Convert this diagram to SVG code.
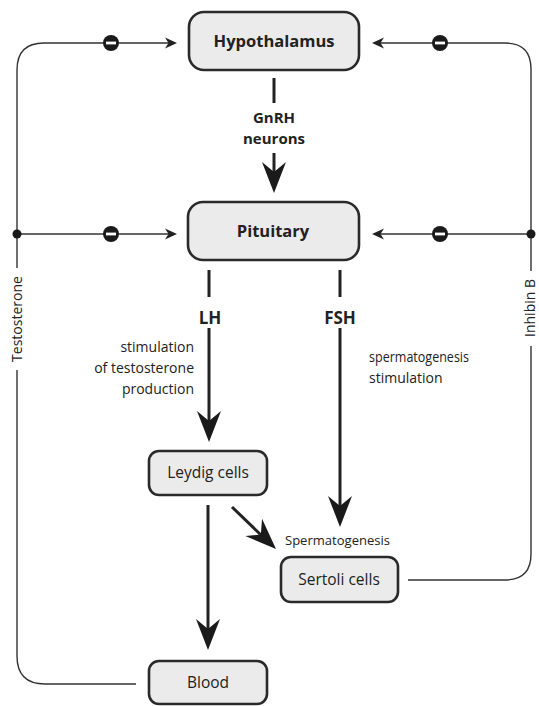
<svg xmlns="http://www.w3.org/2000/svg" xmlns:xlink="http://www.w3.org/1999/xlink" width="539" height="706" viewBox="0 0 539 706">
<style>
.box{fill:#ebebeb;stroke:#2a2a2a;stroke-width:2.6}
.thin{fill:none;stroke:#333;stroke-width:1.4}
.thick{fill:none;stroke:#222;stroke-width:3}
.bold{font-family:"Open Sans","Liberation Sans",sans-serif;font-weight:bold;font-size:16px;fill:#222;text-anchor:middle}
.lbl{font-family:"Open Sans","Liberation Sans",sans-serif;font-size:15.5px;fill:#222;text-anchor:middle}
.note{font-family:"Open Sans","Liberation Sans",sans-serif;font-size:14px;fill:#222}
.side{font-family:"Open Sans","Liberation Sans",sans-serif;font-size:14px;fill:#222;text-anchor:middle}
</style>
<defs>
<path id="big" d="M0,0 L-12,-31 L0,-21 L12,-31 Z" fill="#1a1a1a"/>
<path id="small" d="M0,0 L-12,-5.5 L-8.5,0 L-12,5.5 Z" fill="#222"/>
<g id="minus"><circle r="8" fill="#1a1a1a"/><rect x="-5" y="-1.4" width="10" height="2.8" fill="#fff"/></g>
</defs>

<g id="connectors">
  <!-- testosterone feedback -->
  <path class="thin" d="M136,684 H45 Q17,684 17,656 V370"/>
  <path class="thin" d="M17,268 V70 Q17,43 44,43 H170"/>
  <path class="thin" d="M17,234 H170"/>
  <circle cx="17" cy="234" r="4.5" fill="#1a1a1a"/>
  <use xlink:href="#minus" x="111" y="43"/>
  <use xlink:href="#minus" x="111" y="234"/>
  <use xlink:href="#small" transform="translate(177,43)"/>
  <use xlink:href="#small" transform="translate(177,234)"/>
  <!-- inhibin B feedback -->
  <path class="thin" d="M408,580 H505 Q531,580 531,554 V346"/>
  <path class="thin" d="M531,271 V69 Q531,43 505,43 H379"/>
  <path class="thin" d="M531,234 H379"/>
  <circle cx="531" cy="234" r="4.5" fill="#1a1a1a"/>
  <use xlink:href="#minus" x="440" y="43"/>
  <use xlink:href="#minus" x="440" y="234"/>
  <use xlink:href="#small" transform="translate(372,43) rotate(180)"/>
  <use xlink:href="#small" transform="translate(372,234) rotate(180)"/>
  <!-- GnRH -->
  <path class="thick" d="M274,78 V103"/>
  <path class="thick" d="M274,153 V175"/>
  <use xlink:href="#big" transform="translate(274,193)"/>
  <!-- LH -->
  <path class="thick" d="M209,270 V297"/>
  <path class="thick" d="M209,328 V425"/>
  <use xlink:href="#big" transform="translate(209,442)"/>
  <!-- FSH -->
  <path class="thick" d="M340,270 V297"/>
  <path class="thick" d="M340,328 V510"/>
  <use xlink:href="#big" transform="translate(340,527)"/>
  <!-- Leydig to blood -->
  <path class="thick" d="M208,505 V632"/>
  <use xlink:href="#big" transform="translate(208,650)"/>
  <!-- Leydig to Sertoli -->
  <path class="thick" d="M232,507 L262,536"/>
  <use xlink:href="#big" transform="translate(276,549) rotate(-46)"/>
</g>

<text class="side" transform="translate(22,319) rotate(-90)">Testosterone</text>
<text class="side" transform="translate(535,308) rotate(-90)">Inhibin B</text>

<text class="bold" x="274" y="123" style="font-size:15px">GnRH</text>
<text class="bold" x="274" y="144" style="font-size:15px">neurons</text>
<text class="bold" x="210" y="324" style="font-size:17px">LH</text>
<text class="bold" x="340" y="324" style="font-size:17px">FSH</text>

<text class="note" text-anchor="end" x="194" y="352">stimulation</text>
<text class="note" text-anchor="end" x="194" y="373">of testosterone</text>
<text class="note" text-anchor="end" x="194" y="394">production</text>
<text class="note" x="369" y="362" textLength="100" lengthAdjust="spacingAndGlyphs">spermatogenesis</text>
<text class="note" x="369" y="383">stimulation</text>
<text class="note" x="285" y="545" style="font-size:13px" textLength="105" lengthAdjust="spacingAndGlyphs">Spermatogenesis</text>

<g id="hypothalamus">
  <rect class="box" x="189" y="12" width="170" height="58" rx="15"/>
  <text class="bold" x="274" y="47" style="font-size:16.5px">Hypothalamus</text>
</g>
<g id="pituitary">
  <rect class="box" x="188" y="202" width="171" height="58" rx="15"/>
  <text class="bold" x="273" y="237" style="font-size:16.5px">Pituitary</text>
</g>
<g id="leydig">
  <rect class="box" x="149" y="451" width="118" height="44" rx="10"/>
  <text class="lbl" x="208" y="478">Leydig cells</text>
</g>
<g id="sertoli">
  <rect class="box" x="281" y="557" width="117" height="45" rx="10"/>
  <text class="lbl" x="339" y="585">Sertoli cells</text>
</g>
<g id="blood">
  <rect class="box" x="149" y="661" width="118" height="43" rx="10"/>
  <text class="lbl" x="208" y="688">Blood</text>
</g>
</svg>
